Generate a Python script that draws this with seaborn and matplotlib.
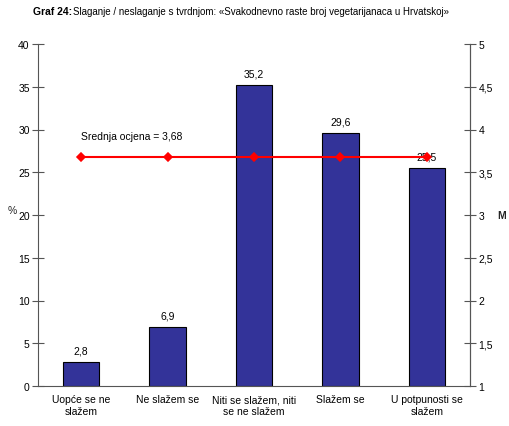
import seaborn as sns
import matplotlib.pyplot as plt
import pandas as pd

sns.set_style("white")
plt.rcParams['font.family'] = ['Liberation Sans', 'DejaVu Sans']
plt.rcParams['text.color'] = 'black'
plt.rcParams['xtick.color'] = 'black'
plt.rcParams['ytick.color'] = 'black'

# Data
categories = ["Uopće se ne\nslažem", "Ne slažem se", "Niti se slažem, niti\nse ne slažem",
              "Slažem se", "U potpunosti se\nslažem"]
percent = [2.8, 6.9, 35.2, 29.6, 25.5]
mean_score = 3.68
mean_line = [mean_score] * len(categories)

df = pd.DataFrame({"cat": categories, "pct": percent, "mean": mean_line})

fig = plt.figure(figsize=(5.1, 4.27), dpi=100)
ax = fig.add_axes([38 / 510, 40 / 427, 432 / 510, 342 / 427])

sns.barplot(data=df, x="cat", y="pct", color="#333399", edgecolor="black",
            linewidth=0.8, width=0.42, saturation=1, ax=ax)
ax.set_ylim(0, 40)
ax.set_xlim(-0.5, 4.5)
ax.set_yticks(range(0, 41, 5))
ax.set_yticklabels([str(v) for v in range(0, 41, 5)], fontsize=7.5)
ax.set_xticks([i - 0.5 for i in range(6)], minor=False)
ax.set_xticklabels([])
ax.set_xticks(range(5), minor=True)
ax.set_xticklabels(categories, minor=True, fontsize=7.5)
ax.tick_params(axis="x", which="minor", length=0, pad=6)
ax.tick_params(axis="x", which="major", direction="inout", length=6, width=0.8, color="#555555")
ax.tick_params(axis="y", direction="inout", length=8, width=0.8, pad=2, color="#555555")
ax.set_xlabel("")
ax.set_ylabel("%", rotation=0, fontsize=7.5, labelpad=4)
ax.spines["top"].set_visible(False)
for s in ["left", "bottom", "right"]:
    ax.spines[s].set_color("#555555")
    ax.spines[s].set_linewidth(0.8)

for i, v in enumerate(percent):
    ax.text(i, v + 0.8, f"{v:.1f}".replace(".", ","), ha="center", va="bottom", fontsize=7.5)

ax2 = ax.twinx()
sns.pointplot(data=df, x="cat", y="mean", color="red", markers="D",
              markersize=4, linewidth=1.5, ax=ax2)
ax2.set_ylim(1, 5)
ax2.set_xlim(-0.5, 4.5)
yt = [1, 1.5, 2, 2.5, 3, 3.5, 4, 4.5, 5]
ax2.set_yticks(yt)
ax2.set_yticklabels([f"{v:g}".replace(".", ",") for v in yt], fontsize=7.5)
ax2.tick_params(axis="y", direction="inout", length=8, width=0.8, pad=2, color="#555555")
ax2.set_ylabel("M", rotation=0, fontsize=7.5, fontweight="bold", labelpad=6, va="center")
ax2.set_xlabel("")
for s in ["top", "left", "bottom"]:
    ax2.spines[s].set_visible(False)
ax2.spines["right"].set_color("#555555")
ax2.spines["right"].set_linewidth(0.8)

ax2.text(0, 3.92, "Srednja ocjena = " + f"{mean_score:.2f}".replace(".", ","),
         ha="left", va="center", fontsize=7.5)

fig.text(33 / 510, 1 - 12 / 427, "Graf 24:", fontsize=7.5, fontweight="bold", va="center")
fig.text(73 / 510, 1 - 12 / 427,
         "Slaganje / neslaganje s tvrdnjom: «Svakodnevno raste broj vegetarijanaca u Hrvatskoj»",
         fontsize=7, va="center")

fig.savefig("out.png", dpi=100)
